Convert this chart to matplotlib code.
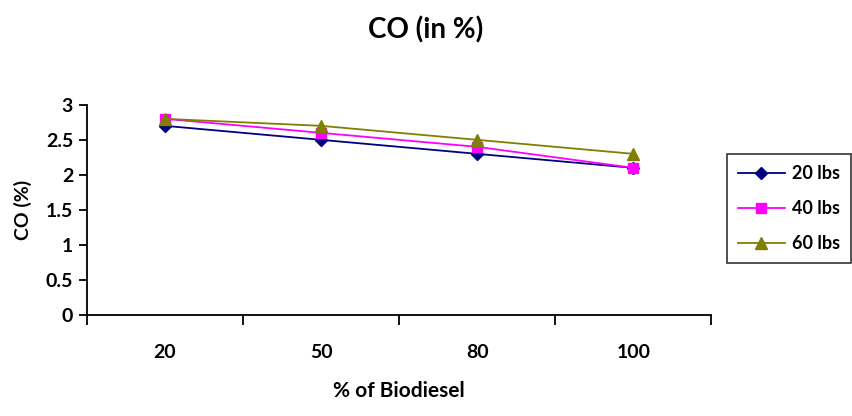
import matplotlib
matplotlib.use("Agg")
import matplotlib.pyplot as plt
import numpy as np

categories = ["20", "50", "80", "100"]
s20 = [2.7, 2.5, 2.3, 2.1]
s40 = [2.8, 2.6, 2.4, 2.1]
s60 = [2.8, 2.7, 2.5, 2.3]
yticks = [0, 0.5, 1, 1.5, 2, 2.5, 3]

plt.rcParams['font.family'] = ['Lato', 'DejaVu Sans']
plt.rcParams['font.weight'] = 'bold'

fig = plt.figure(figsize=(8.52, 4.16), dpi=100)
ax = fig.add_axes([0.102, 0.243, 0.733, 0.505])

x = np.arange(len(categories))
ax.plot(x, s20, color='#000080', marker='D', markersize=6.5, lw=1.3, label='20 lbs')
ax.plot(x, s40, color='#FF00FF', marker='s', markersize=7.5, lw=1.3, label='40 lbs')
ax.plot(x, s60, color='#808000', marker='^', markersize=8.5, lw=1.3, label='60 lbs')

ax.set_xlim(-0.5, len(categories) - 0.5)
ax.set_ylim(0, 3)
ax.set_yticks(yticks)
ax.set_yticklabels([f"{v:g}" for v in yticks], fontsize=14, fontweight='bold')
ax.set_xticks(np.arange(len(categories) + 1) - 0.5)
ax.set_xticklabels([])
ax.set_xticks(x, minor=True)
ax.set_xticklabels(categories, minor=True, fontsize=14, fontweight='bold')
ax.tick_params(axis='x', which='major', length=7, width=1.3, direction='out')
ax.tick_params(axis='x', which='minor', length=0, pad=21)
ax.tick_params(axis='y', length=6, width=1.3, direction='out', pad=4)

for s in ['top', 'right']:
    ax.spines[s].set_visible(False)
for s in ['left', 'bottom']:
    ax.spines[s].set_linewidth(1.3)

ax.set_xlabel('% of Biodiesel', fontsize=15, fontweight='bold', labelpad=14)
ax.set_ylabel('CO (%)', fontsize=14, fontweight='bold', labelpad=10)
fig.suptitle('CO (in %)', fontsize=20, fontweight='bold', y=0.96)

leg = fig.legend(loc='center left', bbox_to_anchor=(0.853, 0.499), fontsize=13,
                 frameon=True, fancybox=False, edgecolor='black', borderpad=0.6,
                 borderaxespad=0, labelspacing=1.0, handlelength=2.6, handletextpad=0.4)
leg.get_frame().set_linewidth(1.2)
for t in leg.get_texts():
    t.set_fontweight('bold')

fig.savefig('out.png', dpi=100)
